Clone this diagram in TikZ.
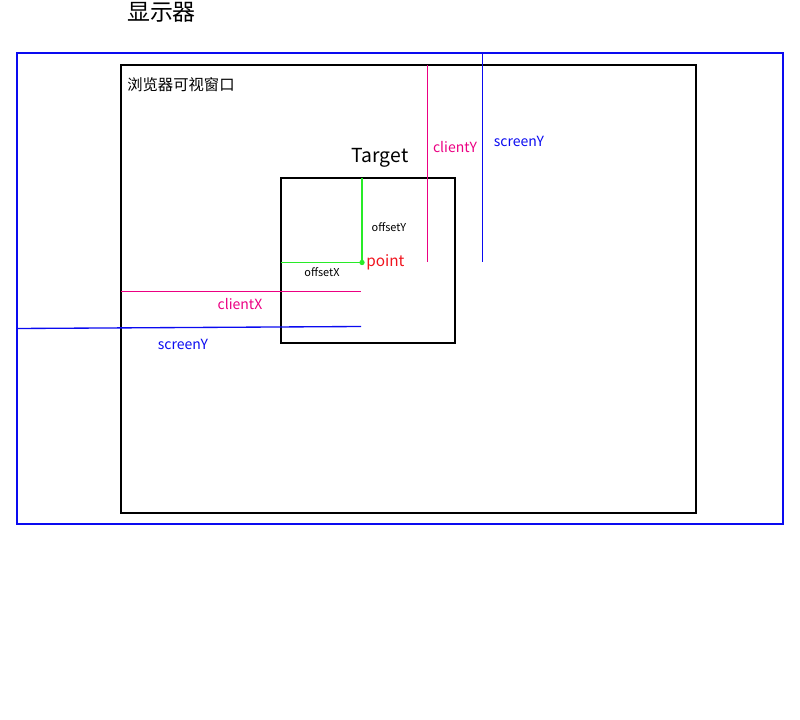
\documentclass[tikz,border=0pt]{standalone}
\usepackage{fontspec}
\setmainfont{Noto Sans CJK SC}
\usetikzlibrary{positioning}

\definecolor{screenblue}{RGB}{10,10,240}
\definecolor{clientpink}{RGB}{235,0,130}
\definecolor{offsetgreen}{RGB}{40,235,40}
\definecolor{pointred}{RGB}{240,20,30}

\begin{document}
\begin{tikzpicture}[
    x=0.75pt, y=-0.75pt,
    frame/.style={
        draw,
        line width=1.5pt,
        inner sep=0pt,
        outer sep=0pt,
        anchor=north west
    },
    tag/.style={
        inner sep=0pt,
        font=\fontsize{8.2pt}{10pt}\selectfont
    },
    guide/.style={line width=1pt}
]
\useasboundingbox (0,0) rectangle (800,720);

% Boxes
\node (screen) [frame, draw=screenblue, minimum width=574.5pt, minimum height=353.25pt] at (17,53) {};
\node (browser)[frame, minimum width=431.25pt, minimum height=336pt] at (121,65) {};
\node (target) [frame, minimum width=130.5pt, minimum height=123.75pt] at (281,178) {};

\node (title) [inner sep=0pt, font=\fontsize{17.2pt}{20pt}\selectfont] at (161.5,12) {显示器};
\node (view)  [inner sep=0pt, anchor=west, font=\fontsize{11.5pt}{14pt}\selectfont] at (127,85) {浏览器可视窗口};
\node (tname) [inner sep=0pt, font=\fontsize{14.5pt}{17pt}\selectfont] at (380,158) {Target};

% Point
\coordinate (pt) at (362,262.5);
\fill[offsetgreen] (pt) circle (2pt);
\node (ptname)[right=3pt of pt, inner sep=0pt, text=pointred, font=\fontsize{11.5pt}{14pt}\selectfont] {point};

% Offsets
\draw[guide, offsetgreen] (target.west |- pt) -- (pt);
\node (oxname) [tag] at (322,272) {offsetX};
\draw[guide, offsetgreen] (pt |- target.north) -- (pt);
\node (oyname) [tag] at (389,227) {offsetY};

% Client
\coordinate (cy) at (427.5,262);
\coordinate (cx) at (361,291.5);
\draw[guide, draw=clientpink] (browser.north -| cy) -- (cy);
\node (cyname) [tag, text=clientpink, font=\fontsize{10.5pt}{13pt}\selectfont] at (455,147) {clientY};
\draw[guide, draw=clientpink] (browser.west |- cx) -- (cx);
\node (cxname) [tag, text=clientpink, font=\fontsize{10.5pt}{13pt}\selectfont] at (240,304) {clientX};

% Screen
\coordinate (sy) at (482.5,262);
\coordinate (sx) at (361,326.5);
\draw[guide, screenblue] (screen.north -| sy) -- (sy);
\node (syname) [tag, text=screenblue, font=\fontsize{10.5pt}{13pt}\selectfont] at (519,141) {screenY};
\draw[guide, screenblue] (17,328.5) -- (sx);
\node (sxname) [tag, text=screenblue, font=\fontsize{10.5pt}{13pt}\selectfont] at (183,344) {screenY};

\end{tikzpicture}
\end{document}
